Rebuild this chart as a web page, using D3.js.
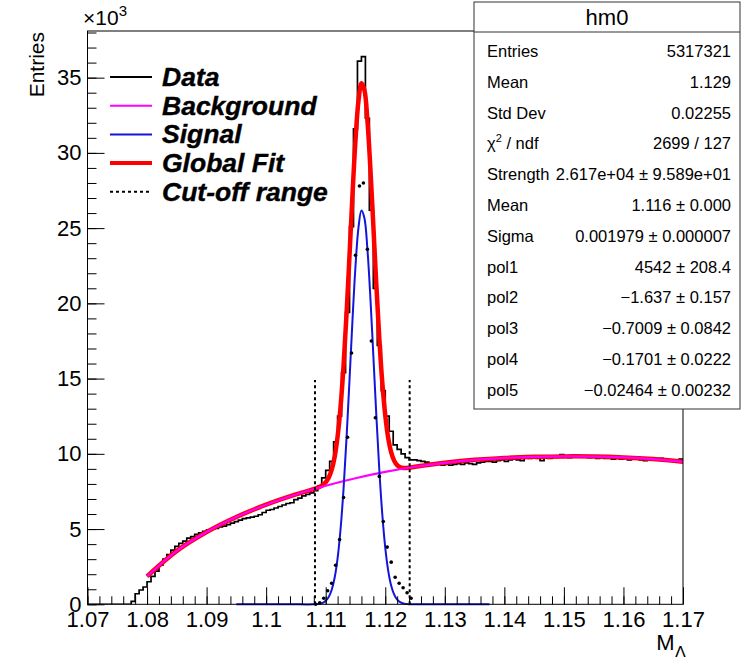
<!DOCTYPE html>
<html>
<head>
<meta charset="utf-8">
<script src="https://cdn.jsdelivr.net/npm/d3@7"></script>
<style>
  body { margin: 0; background: #fff; }
  text { font-family: "Liberation Sans", Arial, Helvetica, sans-serif; }
</style>
</head>
<body>
<script>
// ---------------------------------------------
// data (entries in units of 10^3)
// ---------------------------------------------
var histLo = 1.07, histHi = 1.17;
// 150 bins between 1.07 and 1.17
var counts = [
  0, 0, 0, 0, 0, 0, 0, 0, 0, 0,
  0, 0.2, 0.7, 0.95, 1.15, 1.5, 1.85, 2.2, 2.6, 3.0,
  3.3, 3.6, 3.85, 4.05, 4.2, 4.4, 4.5, 4.65, 4.75, 4.85,
  4.95, 5.0, 5.05, 5.15, 5.2, 5.3, 5.4, 5.5, 5.6, 5.7,
  5.75, 5.8, 5.85, 5.95, 6.1, 6.25, 6.3, 6.4, 6.5, 6.6,
  6.7, 6.75, 6.95, 7.05, 7.2, 7.3, 7.4, 7.55, 7.85, 8.4,
  8.9, 9.5, 10.8, 12.5, 15.4, 19.4, 25.1, 31.6, 36.1, 36.4,
  32.3, 26.2, 21.0, 17.2, 14.2, 12.5, 11.5, 10.6, 10.3, 10.0,
  9.75, 9.6, 9.6, 9.55, 9.5, 9.45, 9.35, 9.3, 9.3, 9.25,
  9.3, 9.25, 9.3, 9.35, 9.3, 9.4, 9.35, 9.3, 9.4, 9.45,
  9.5, 9.5, 9.45, 9.55, 9.6, 9.5, 9.6, 9.65, 9.6, 9.55,
  9.75, 9.7, 9.75, 9.7, 9.55, 9.75, 9.7, 9.8, 9.85, 9.95,
  9.8, 9.75, 9.8, 9.9, 9.85, 9.8, 9.75, 9.8, 9.7, 9.75,
  9.7, 9.7, 9.65, 9.7, 9.65, 9.7, 9.6, 9.65, 9.75, 9.6,
  9.55, 9.6, 9.65, 9.6, 9.7, 9.65, 9.55, 9.6, 9.55, 9.65
];

// data minus background inside the cut-off range (bins 57..81)
var subFirstBin = 57;
var subtracted = [
  0.0, 0.1, 0.4, 0.9, 1.4, 2.6, 4.3, 7.1, 11.1, 16.7,
  23.2, 27.8, 28.0, 23.6, 17.5, 12.4, 8.5, 5.5, 3.8, 2.8,
  1.8, 1.4, 1.1, 0.77, 0.4
];

// background polynomial
var bgX = [1.080, 1.085, 1.090, 1.095, 1.100, 1.105, 1.110, 1.115, 1.120, 1.125,
           1.130, 1.135, 1.140, 1.145, 1.150, 1.155, 1.160, 1.165, 1.170];
var bgY = [1.85, 3.55, 4.80, 5.80, 6.62, 7.30, 7.88, 8.38, 8.80, 9.14,
           9.40, 9.60, 9.73, 9.80, 9.83, 9.82, 9.76, 9.65, 9.48];

// signal gaussian
var sigX = [1.095, 1.104, 1.108, 1.1085, 1.109, 1.1095, 1.110, 1.1105, 1.111, 1.1115,
            1.112, 1.1125, 1.113, 1.1135, 1.114, 1.1145, 1.115, 1.1155, 1.116, 1.1165,
            1.117, 1.1175, 1.118, 1.1185, 1.119, 1.1195, 1.120, 1.1205, 1.121, 1.1215,
            1.122, 1.1225, 1.123, 1.124, 1.127, 1.1375];
var sigY = [0, 0, 0, 0.02, 0.04, 0.10, 0.23, 0.48, 0.95, 1.76,
            3.07, 5.02, 7.69, 11.06, 14.92, 18.90, 22.45, 25.02, 26.17, 25.67,
            23.63, 20.40, 16.53, 12.57, 8.96, 6.00, 3.77, 2.22, 1.23, 0.64,
            0.31, 0.14, 0.06, 0.01, 0, 0];

// global fit
var fitX = [1.080, 1.085, 1.090, 1.095, 1.100, 1.105, 1.108, 1.1085, 1.109, 1.1095,
            1.110, 1.1105, 1.111, 1.1115, 1.112, 1.1125, 1.113, 1.1135, 1.114, 1.1145,
            1.115, 1.1155, 1.116, 1.1165, 1.117, 1.1175, 1.118, 1.1185, 1.119, 1.1195,
            1.120, 1.1205, 1.121, 1.1215, 1.122, 1.1225, 1.123, 1.124, 1.125, 1.130,
            1.135, 1.140, 1.145, 1.150, 1.155, 1.160, 1.165, 1.170];
var fitY = [1.85, 3.55, 4.80, 5.80, 6.62, 7.30, 7.65, 7.73, 7.81, 7.92,
            8.11, 8.41, 8.93, 9.79, 11.15, 13.15, 15.87, 19.29, 23.20, 27.23,
            30.83, 33.44, 34.63, 34.18, 32.18, 28.99, 25.16, 21.24, 17.68, 14.76,
            12.57, 11.05, 10.10, 9.54, 9.25, 9.11, 9.06, 9.08, 9.14, 9.40,
            9.60, 9.73, 9.80, 9.83, 9.82, 9.76, 9.65, 9.48];

// cut-off range
var cutX = [1.1082, 1.1241];
var cutTop = 14.9;

// axes
var xTicks = [1.07, 1.08, 1.09, 1.10, 1.11, 1.12, 1.13, 1.14, 1.15, 1.16, 1.17];
var xTickLabels = ["1.07", "1.08", "1.09", "1.1", "1.11", "1.12", "1.13", "1.14", "1.15", "1.16", "1.17"];
var yTicks = [0, 5, 10, 15, 20, 25, 30, 35];
var yTickLabels = ["0", "5", "10", "15", "20", "25", "30", "35"];
var yMax = 38.1;

// legend + stats
var legendLabels = ["Data", "Background", "Signal", "Global Fit", "Cut-off range"];
var statsTitle = "hm0";
var statsLabels = ["Entries", "Mean", "Std Dev", "chi2", "Strength", "Mean", "Sigma",
                   "pol1", "pol2", "pol3", "pol4", "pol5"];
var statsValues = ["5317321", "1.129", "0.02255", "2699 / 127", "2.617e+04 \u00b1 9.589e+01",
                   "1.116 \u00b1 0.000", "0.001979 \u00b1 0.000007", "4542 \u00b1 208.4",
                   "\u22121.637 \u00b1 0.157", "\u22120.7009 \u00b1 0.0842",
                   "\u22120.1701 \u00b1 0.0222", "\u22120.02464 \u00b1 0.00232"];

// ---------------------------------------------
// drawing
// ---------------------------------------------
var W = 742, H = 657;
var svg = d3.select("body").append("svg").attr("width", W).attr("height", H);
svg.append("rect").attr("width", W).attr("height", H).attr("fill", "#fff");

var x = d3.scaleLinear().domain([histLo, histHi]).range([87.5, 683]);
var y = d3.scaleLinear().domain([0, yMax]).range([604.3, 31]);

var plot = svg.append("g");
plot.append("clipPath").attr("id", "frameClip")
  .append("rect")
  .attr("x", x(histLo)).attr("y", y(yMax))
  .attr("width", x(histHi) - x(histLo)).attr("height", y(0) - y(yMax));

// histogram
var nb = counts.length;
var bw = (histHi - histLo) / nb;
var stepPts = counts.map(function(c, i) { return [histLo + i * bw, c]; });
stepPts.push([histHi, counts[nb - 1]]);
var stepLine = d3.line()
  .x(function(d) { return x(d[0]); })
  .y(function(d) { return y(d[1]); })
  .curve(d3.curveStepAfter);
plot.append("path")
  .attr("d", stepLine(stepPts))
  .attr("fill", "none").attr("stroke", "#000").attr("stroke-width", 1.7)
  .attr("clip-path", "url(#frameClip)");

var curve = d3.line()
  .x(function(d) { return x(d[0]); })
  .y(function(d) { return y(d[1]); })
  .curve(d3.curveCatmullRom.alpha(0.5));

function zip(a, b) { return a.map(function(v, i) { return [v, b[i]]; }); }

// global fit (red, thick)
plot.append("path")
  .attr("d", curve(zip(fitX, fitY)))
  .attr("fill", "none").attr("stroke", "#ff0000").attr("stroke-width", 4.5);

// background
plot.append("path")
  .attr("d", curve(zip(bgX, bgY)))
  .attr("fill", "none").attr("stroke", "#ff00ff").attr("stroke-width", 2.2);

// signal
plot.append("path")
  .attr("d", curve(zip(sigX, sigY)))
  .attr("fill", "none").attr("stroke", "#1414dc").attr("stroke-width", 2);

// subtracted points
plot.selectAll("circle.sub")
  .data(subtracted)
  .enter()
  .append("circle")
  .attr("class", "sub")
  .attr("cx", function(d, i) { return x(histLo + (subFirstBin + i + 0.5) * bw); })
  .attr("cy", function(d) { return y(d); })
  .attr("r", 1.8)
  .attr("fill", "#000");

// cut-off lines
plot.selectAll("line.cut")
  .data(cutX)
  .enter()
  .append("line")
  .attr("class", "cut")
  .attr("x1", function(d) { return x(d); })
  .attr("x2", function(d) { return x(d); })
  .attr("y1", y(0))
  .attr("y2", y(cutTop))
  .attr("stroke", "#000").attr("stroke-width", 2)
  .attr("stroke-dasharray", "3,3");

// frame
svg.append("rect")
  .attr("x", x(histLo)).attr("y", y(yMax))
  .attr("width", x(histHi) - x(histLo)).attr("height", y(0) - y(yMax))
  .attr("fill", "none").attr("stroke", "#000").attr("stroke-width", 1);

// x axis
var xMinor = d3.range(0, 51).map(function(i) { return histLo + i * 0.002; });
var gxm = svg.append("g").attr("transform", "translate(0," + y(0) + ")")
  .call(d3.axisBottom(x).tickValues(xMinor).tickSize(-8).tickFormat(""));
var gx = svg.append("g").attr("transform", "translate(0," + y(0) + ")")
  .call(d3.axisBottom(x).tickValues(xTicks).tickSize(-17).tickPadding(7)
    .tickFormat(function(d, i) { return xTickLabels[i]; }));

// y axis
var yMinor = d3.range(0, 39);
var gym = svg.append("g").attr("transform", "translate(" + x(histLo) + ",0)")
  .call(d3.axisLeft(y).tickValues(yMinor).tickSize(-9).tickFormat(""));
var gy = svg.append("g").attr("transform", "translate(" + x(histLo) + ",0)")
  .call(d3.axisLeft(y).tickValues(yTicks).tickSize(-17).tickPadding(6)
    .tickFormat(function(d, i) { return yTickLabels[i]; }));

[gxm, gx, gym, gy].forEach(function(g) {
  g.select(".domain").remove();
  g.selectAll("line").attr("stroke", "#000").attr("stroke-width", 1);
  g.selectAll("text")
    .attr("font-family", "'Liberation Sans', Arial, sans-serif")
    .attr("font-size", 22).attr("fill", "#000");
});

// exponent
var expo = svg.append("text").attr("x", 83).attr("y", 25).attr("font-size", 21);
expo.append("tspan").text("\u00d710");
expo.append("tspan").attr("dy", -9).attr("font-size", 15).text("3");

// axis titles
svg.append("text")
  .attr("transform", "translate(44,32) rotate(-90)")
  .attr("text-anchor", "end")
  .attr("font-size", 21)
  .text("Entries");

var xt = svg.append("text").attr("x", 686).attr("y", 650)
  .attr("text-anchor", "end").attr("font-size", 22);
xt.append("tspan").text("M");
xt.append("tspan").attr("dy", 8).attr("font-size", 17).text("\u039b");

// legend
var legStyles = [
  { color: "#000", width: 2, dash: null },
  { color: "#ff00ff", width: 2, dash: null },
  { color: "#1414dc", width: 2, dash: null },
  { color: "#ff0000", width: 4, dash: null },
  { color: "#000", width: 2, dash: "3,3" }
];
var leg = svg.append("g");
legendLabels.forEach(function(name, i) {
  var cy = 77 + i * 28.7;
  var ln = leg.append("line")
    .attr("x1", 110).attr("x2", 152).attr("y1", cy).attr("y2", cy)
    .attr("stroke", legStyles[i].color).attr("stroke-width", legStyles[i].width);
  if (legStyles[i].dash) ln.attr("stroke-dasharray", legStyles[i].dash);
  leg.append("text")
    .attr("x", 162).attr("y", cy + 9)
    .attr("font-size", 26.5).attr("font-weight", "bold").attr("font-style", "italic")
    .attr("stroke", "#000").attr("stroke-width", 0.4)
    .text(name);
});

// stats box
var sb = { x: 474, y: 2, w: 266, h: 407, head: 30 };
var stats = svg.append("g");
stats.append("rect")
  .attr("x", sb.x).attr("y", sb.y).attr("width", sb.w).attr("height", sb.h)
  .attr("fill", "#fff").attr("stroke", "#333").attr("stroke-width", 1);
stats.append("line")
  .attr("x1", sb.x).attr("x2", sb.x + sb.w)
  .attr("y1", sb.y + sb.head).attr("y2", sb.y + sb.head)
  .attr("stroke", "#333").attr("stroke-width", 1);
stats.append("text")
  .attr("x", sb.x + sb.w / 2).attr("y", sb.y + 23)
  .attr("text-anchor", "middle").attr("font-size", 22)
  .text(statsTitle);

var rowH = 30.8;
statsLabels.forEach(function(lab, i) {
  var cy = 51 + rowH * i;
  var t = stats.append("text").attr("x", sb.x + 13).attr("y", cy + 6).attr("font-size", 16.5);
  if (lab === "chi2") {
    t.append("tspan").text("\u03c7");
    t.append("tspan").attr("dy", -7).attr("font-size", 11).text("2");
    t.append("tspan").attr("dy", 7).text(" / ndf");
  } else {
    t.text(lab);
  }
  stats.append("text")
    .attr("x", sb.x + sb.w - 9).attr("y", cy + 6)
    .attr("text-anchor", "end").attr("font-size", 16.5)
    .text(statsValues[i]);
});
</script>
</body>
</html>
